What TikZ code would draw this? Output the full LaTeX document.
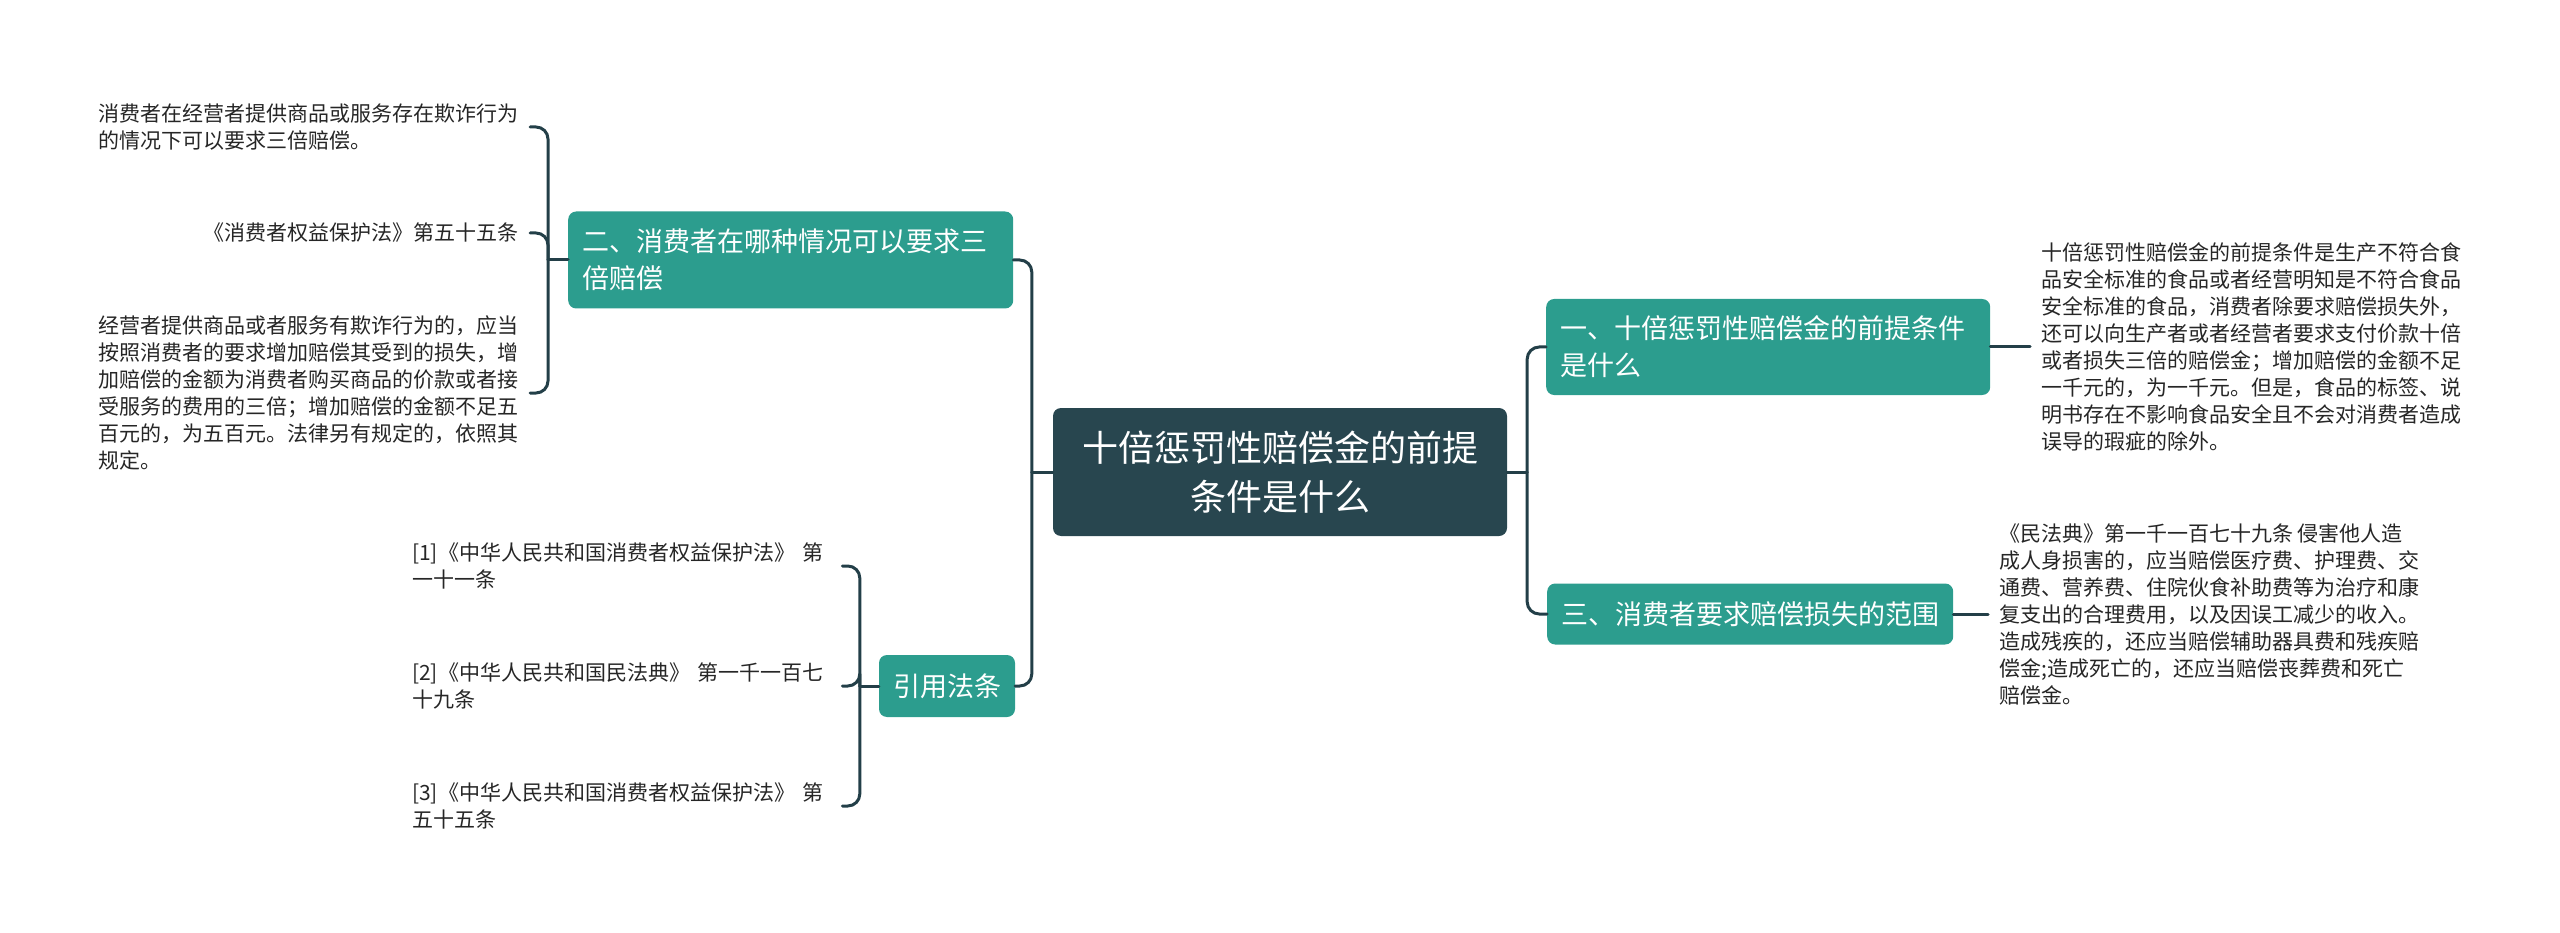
\documentclass[tikz,border=0pt]{standalone}
\usepackage{fontspec}
\newfontfamily\cjk{Noto Sans CJK SC}
\definecolor{mauGoc}{HTML}{28464F}
\definecolor{mauNhanh}{HTML}{2C9D8E}
\definecolor{mauDuong}{HTML}{233F48}
\begin{document}
\begin{tikzpicture}[x=1pt,y=-1pt,line join=round,line cap=round,font=\cjk]
	\tikzset{
		nut-goc/.style={fill=mauGoc,text=white,rounded corners=8pt,inner sep=0pt,minimum width=454pt,minimum height=128pt,align=center,font=\cjk\fontsize{36pt}{49pt}\selectfont},
		nut-nhanh/.style={fill=mauNhanh,text=white,rounded corners=8pt,inner xsep=14pt,inner ysep=0pt,align=left,font=\cjk\fontsize{27pt}{37pt}\selectfont},
		nut-la/.style={inner xsep=11pt,inner ysep=0pt,align=left,text=black!85,font=\cjk\fontsize{21pt}{27pt}\selectfont},
		duong-noi/.style={draw=mauDuong,line width=3pt,rounded corners=12pt}
	}
	\useasboundingbox (0,0) rectangle (2560,933);
	% goc va nhanh
	\node[nut-goc] (goc) at (1280,472) {十倍惩罚性赔偿金的前提\\条件是什么};
	\node[nut-nhanh,anchor=west,text width=417pt,minimum height=97pt] (n2) at (568,260) {二、消费者在哪种情况可以要求三\\倍赔偿};
	\node[nut-nhanh,minimum height=62pt] (n4) at (947,686) {引用法条};
	\node[nut-nhanh,anchor=west,text width=416pt,minimum height=96pt] (n1) at (1546,347) {一、十倍惩罚性赔偿金的前提条件\\是什么};
	\node[nut-nhanh,anchor=west,minimum height=61pt] (n3) at (1547,614) {三、消费者要求赔偿损失的范围};
	% la
	\node[nut-la,anchor=east] (a1) at (530,127) {消费者在经营者提供商品或服务存在欺诈行为\\的情况下可以要求三倍赔偿。};
	\node[nut-la,anchor=east] (a2) at (530,233) {《消费者权益保护法》第五十五条};
	\node[nut-la,anchor=east] (a3) at (530,393) {经营者提供商品或者服务有欺诈行为的，应当\\按照消费者的要求增加赔偿其受到的损失，增\\加赔偿的金额为消费者购买商品的价款或者接\\受服务的费用的三倍；增加赔偿的金额不足五\\百元的，为五百元。法律另有规定的，依照其\\规定。};
	\node[nut-la,anchor=west,text width=419pt] (b1) at (401,566) {[1]《中华人民共和国消费者权益保护法》 第\\一十一条};
	\node[nut-la,anchor=west,text width=419pt] (b2) at (401,686) {[2]《中华人民共和国民法典》 第一千一百七\\十九条};
	\node[nut-la,anchor=west,text width=419pt] (b3) at (401,806) {[3]《中华人民共和国消费者权益保护法》 第\\五十五条};
	\node[nut-la,anchor=west] (c1) at (2030,347) {十倍惩罚性赔偿金的前提条件是生产不符合食\\品安全标准的食品或者经营明知是不符合食品\\安全标准的食品，消费者除要求赔偿损失外，\\还可以向生产者或者经营者要求支付价款十倍\\或者损失三倍的赔偿金；增加赔偿的金额不足\\一千元的，为一千元。但是，食品的标签、说\\明书存在不影响食品安全且不会对消费者造成\\误导的瑕疵的除外。};
	\node[nut-la,anchor=west] (c3) at (1988,614) {《民法典》第一千一百七十九条 侵害他人造\\成人身损害的，应当赔偿医疗费、护理费、交\\通费、营养费、住院伙食补助费等为治疗和康\\复支出的合理费用，以及因误工减少的收入。\\造成残疾的，还应当赔偿辅助器具费和残疾赔\\偿金;造成死亡的，还应当赔偿丧葬费和死亡\\赔偿金。};
	% duong noi
	\draw[duong-noi] (goc.west) -- ++(-21,0) coordinate (tl);
	\draw[duong-noi] (tl) |- (n2.east);
	\draw[duong-noi] (tl) |- (n4.east);
	\draw[duong-noi] (goc.east) -- ++(20,0) coordinate (tr);
	\draw[duong-noi] (tr) |- (n1.west);
	\draw[duong-noi] (tr) |- (n3.west);
	\draw[duong-noi] (n2.west) -- ++(-20,0) coordinate (t2);
	\foreach \x in {a1,a2,a3}
		\draw[duong-noi] (t2) |- (\x.east);
	\draw[duong-noi] (n4.west) -- ++(-19,0) coordinate (t4);
	\foreach \x in {b1,b2,b3}
		\draw[duong-noi] (t4) |- (\x.east);
	\draw[duong-noi] (n1.east) -- (c1.west);
	\draw[duong-noi] (n3.east) -- (c3.west);
\end{tikzpicture}
\end{document}
